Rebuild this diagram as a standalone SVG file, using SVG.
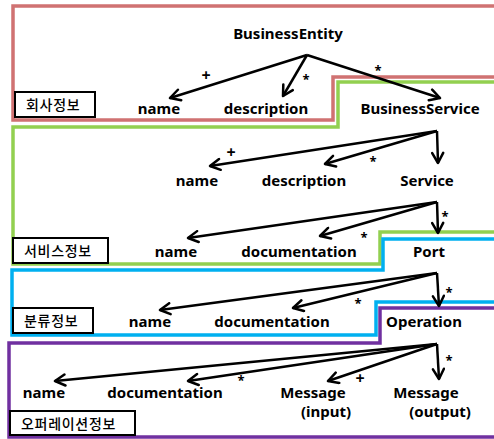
<svg xmlns="http://www.w3.org/2000/svg" width="494" height="439" viewBox="0 0 494 439">
<style>
.t{font-family:"Noto Sans","Liberation Sans","Noto Sans CJK KR",sans-serif;font-weight:bold;font-size:15px;fill:#000;text-anchor:middle}
.k{font-family:"Noto Sans CJK KR","Noto Sans",sans-serif;font-size:14px;font-weight:500;fill:#000;letter-spacing:0.7px}
.s{font-family:"Noto Sans","Liberation Sans",sans-serif;font-weight:bold;font-size:13px;fill:#000;text-anchor:middle}
.p{font-family:"Noto Sans","Liberation Sans",sans-serif;font-weight:bold;font-size:16px;fill:#000;text-anchor:middle}
.box{fill:#fff;stroke:#000;stroke-width:2}
.reg{fill:none;stroke-width:3.5;stroke-linejoin:miter}
.c{fill:none;stroke:#000;stroke-width:2.5;marker-end:url(#ah)}
</style>
<defs>
<marker id="ah" markerUnits="userSpaceOnUse" markerWidth="14" markerHeight="14" viewBox="0 0 14 14" refX="12" refY="7" orient="auto">
<path d="M2,1.5 L12,7 L2,12.5" fill="none" stroke="#000" stroke-width="2.5" stroke-linecap="round" stroke-linejoin="round"/>
</marker>
</defs>
<rect width="494" height="439" fill="#fff"/>
<g id="regions">
<path class="reg" stroke="#d07272" d="M497,6 H13 V120 H333 V77 H497"/>
<path class="reg" stroke="#92d050" d="M497,82 H338 V127 H13 V264 H380 V232 H497"/>
<path class="reg" stroke="#00b0f0" d="M497,239 H383 V270 H12 V335 H376 V302 H497"/>
<path class="reg" stroke="#7030a0" d="M497,308 H380 V343 H9 V437 H497"/>
</g>
<g id="connectors">
<path class="c" d="M307,55 L170,98"/>
<path class="c" d="M307,55 L283,96"/>
<path class="c" d="M307,55 L440,98"/>
<path class="c" d="M437,131 L210,166"/>
<path class="c" d="M437,131 L325,164"/>
<path class="c" d="M437,131 L438,163"/>
<path class="c" d="M437,202 L188,238"/>
<path class="c" d="M437,202 L320,236"/>
<path class="c" d="M437,202 L438,233"/>
<path class="c" d="M437,273 L160,310"/>
<path class="c" d="M437,273 L293,308"/>
<path class="c" d="M437,273 L439,306"/>
<path class="c" d="M437,344 L55,381"/>
<path class="c" d="M437,344 L188,381"/>
<path class="c" d="M437,344 L328,381"/>
<path class="c" d="M437,344 L439,379"/>
<text class="p" x="206" y="81">+</text>
<text class="s" x="306" y="84">*</text>
<text class="s" x="378" y="75">*</text>
<text class="p" x="231" y="158">+</text>
<text class="s" x="373" y="166">*</text>
<text class="s" x="364" y="242">*</text>
<text class="s" x="445" y="221">*</text>
<text class="s" x="358" y="308">*</text>
<text class="s" x="449" y="297">*</text>
<text class="s" x="241" y="385">*</text>
<text class="p" x="360" y="384">+</text>
<text class="s" x="449" y="365">*</text>
</g>
<g id="BusinessEntity"><text class="t" x="288" y="39">BusinessEntity</text></g>
<g id="be-name"><text class="t" x="159" y="114">name</text></g>
<g id="be-description"><text class="t" x="266" y="114">description</text></g>
<g id="BusinessService"><text class="t" x="420" y="114">BusinessService</text></g>
<g id="bs-name"><text class="t" x="197" y="186">name</text></g>
<g id="bs-description"><text class="t" x="304" y="186">description</text></g>
<g id="Service"><text class="t" x="427" y="186">Service</text></g>
<g id="s-name"><text class="t" x="176" y="257">name</text></g>
<g id="s-documentation"><text class="t" x="299" y="257">documentation</text></g>
<g id="Port"><text class="t" x="429" y="257">Port</text></g>
<g id="p-name"><text class="t" x="150" y="327">name</text></g>
<g id="p-documentation"><text class="t" x="272" y="327">documentation</text></g>
<g id="Operation"><text class="t" x="424" y="327">Operation</text></g>
<g id="o-name"><text class="t" x="44" y="398">name</text></g>
<g id="o-documentation"><text class="t" x="165" y="398">documentation</text></g>
<g id="MessageInput"><text class="t" x="313" y="398">Message</text><text class="t" x="326" y="417">(input)</text></g>
<g id="MessageOutput"><text class="t" x="426" y="398">Message</text><text class="t" x="440" y="417">(output)</text></g>
<g id="label-company"><rect class="box" x="15" y="92" width="80" height="25"/><text class="k" x="26" y="110">회사정보</text></g>
<g id="label-service"><rect class="box" x="13" y="238" width="95" height="25"/><text class="k" x="24" y="256">서비스정보</text></g>
<g id="label-category"><rect class="box" x="13" y="308" width="80" height="25"/><text class="k" x="24" y="326">분류정보</text></g>
<g id="label-operation"><rect class="box" x="10" y="411" width="125" height="24"/><text class="k" x="21" y="429">오퍼레이션정보</text></g>
</svg>
